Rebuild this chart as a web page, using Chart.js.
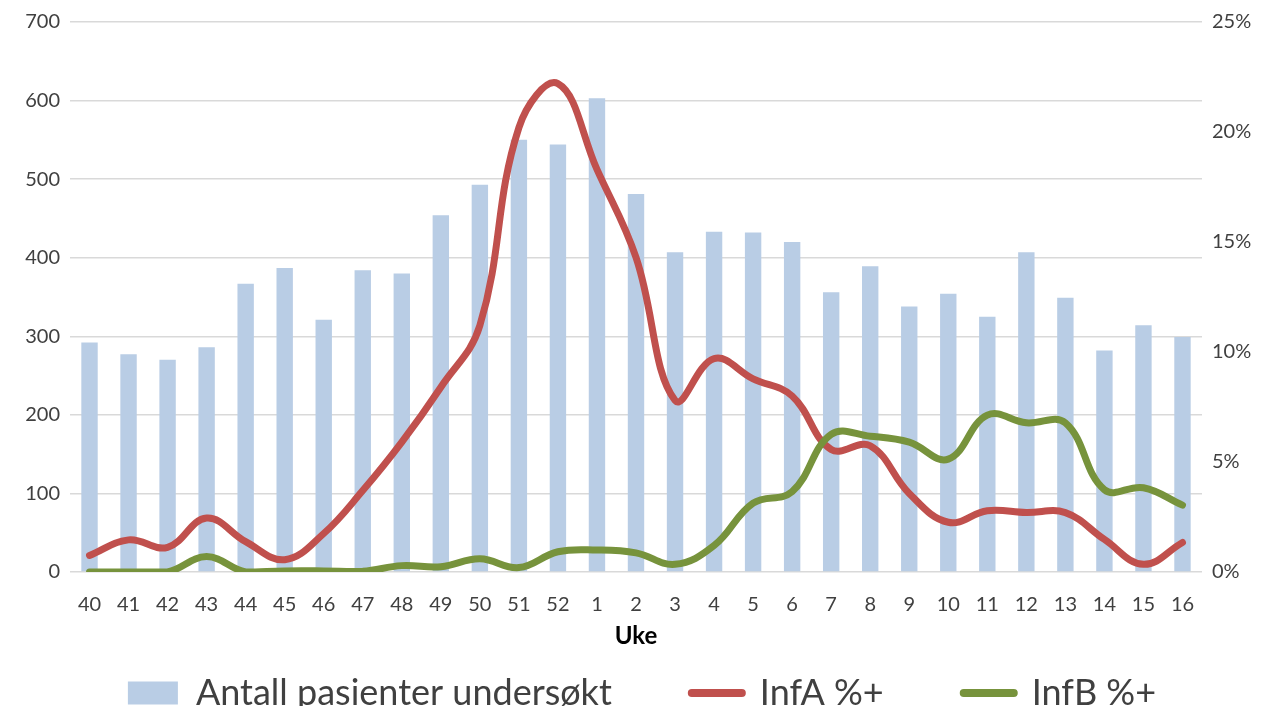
<!DOCTYPE html>
<html lang="no">
<head>
    <meta charset="UTF-8">
    <title>Influensa per uke</title>
    <script src="https://cdn.jsdelivr.net/npm/chart.js"></script>
    <style>
        html, body { margin: 0; padding: 0; background: #fff; }
        #wrap { width: 1284px; height: 706px; }
    </style>
</head>
<body>
    <div id="wrap"><canvas id="fluChart"></canvas></div>

    <script>
        // Uke-nummer langs x-aksen
        const weeks = ['40', '41', '42', '43', '44', '45', '46', '47', '48', '49', '50', '51', '52',
                       '1', '2', '3', '4', '5', '6', '7', '8', '9', '10', '11', '12', '13', '14', '15', '16'];

        // Antall pasienter undersøkt (venstre akse)
        const patients = [292, 277, 270, 286, 367, 387, 321, 384, 380, 454, 493, 550, 544,
                          603, 481, 407, 433, 432, 420, 356, 389, 338, 354, 325, 407, 349, 282, 314, 299];

        // Andel positive i prosent (høyre akse)
        const infA = [0.75, 1.46, 1.12, 2.45, 1.38, 0.56, 1.75, 3.7, 5.9, 8.4, 11.2, 20.2, 22.2,
                      18.3, 14.3, 7.8, 9.7, 8.78, 8.0, 5.57, 5.74, 3.57, 2.26, 2.78, 2.7, 2.7, 1.48, 0.35, 1.34];
        const infB = [0, 0, 0, 0.7, 0, 0.05, 0.05, 0.03, 0.29, 0.24, 0.6, 0.2, 0.92,
                      1.0, 0.87, 0.35, 1.2, 3.13, 3.65, 6.26, 6.17, 5.9, 5.13, 7.13, 6.78, 6.78, 3.74, 3.83, 3.04];

        const leftTicks = { min: 0, max: 700, step: 100 };
        const rightTicks = { min: 0, max: 25, step: 5 };

        const tickFont = { family: 'Lato', size: 20 };
        const tickColor = '#404040';

        new Chart(document.getElementById('fluChart'), {
            type: 'bar',
            data: {
                labels: weeks,
                datasets: [
                    {
                        label: 'Antall pasienter undersøkt',
                        data: patients,
                        backgroundColor: '#B9CDE5',
                        yAxisID: 'y',
                        categoryPercentage: 1.0,
                        barPercentage: 0.42,
                        order: 2
                    },
                    {
                        type: 'line',
                        label: 'InfA %+',
                        data: infA,
                        borderColor: '#C0504D',
                        backgroundColor: '#C0504D',
                        borderWidth: 7,
                        borderCapStyle: 'round',
                        tension: 0.4,
                        pointRadius: 0,
                        yAxisID: 'y1',
                        order: 1
                    },
                    {
                        type: 'line',
                        label: 'InfB %+',
                        data: infB,
                        borderColor: '#77933C',
                        backgroundColor: '#77933C',
                        borderWidth: 7,
                        borderCapStyle: 'round',
                        tension: 0.4,
                        pointRadius: 0,
                        yAxisID: 'y1',
                        order: 0
                    }
                ]
            },
            options: {
                responsive: true,
                maintainAspectRatio: false,
                animation: false,
                // negative bottom padding lets the wide legend spacing sit low like the original
                layout: { padding: { top: 22, left: 0, right: 0, bottom: -15 } },
                plugins: {
                    tooltip: { enabled: false },
                    legend: {
                        position: 'bottom',
                        labels: {
                            usePointStyle: true,
                            pointStyleWidth: 50,
                            boxHeight: 23,
                            padding: 80,
                            color: '#404040',
                            font: { family: 'Lato', size: 36 },
                            sort: (a, b) => a.datasetIndex - b.datasetIndex,
                            generateLabels(chart) {
                                const items = Chart.defaults.plugins.legend.labels.generateLabels(chart);
                                items.forEach(item => {
                                    const ds = chart.data.datasets[item.datasetIndex];
                                    if (ds.type === 'line') {
                                        item.pointStyle = 'line';
                                        item.lineWidth = 8;
                                        item.lineCap = 'round';
                                        item.strokeStyle = ds.borderColor;
                                    } else {
                                        item.pointStyle = 'rect';
                                        item.lineWidth = 0;
                                        item.fillStyle = ds.backgroundColor;
                                    }
                                });
                                return items;
                            }
                        }
                    }
                },
                scales: {
                    x: {
                        grid: { display: false, drawTicks: false },
                        border: { display: false },
                        // mirror + negative padding: labels sit below the axis without being clipped
                        ticks: { color: tickColor, font: tickFont, mirror: true, padding: -45, maxRotation: 0, autoSkip: false },
                        title: {
                            display: true,
                            text: 'Uke',
                            color: '#000',
                            font: { family: 'Lato', size: 24, weight: 'bold' },
                            padding: { top: 0, bottom: -56 }
                        },
                        afterFit(scale) { scale.height = 23; }
                    },
                    y: {
                        position: 'left',
                        min: leftTicks.min,
                        max: leftTicks.max,
                        ticks: { stepSize: leftTicks.step, color: tickColor, font: tickFont, padding: 10 },
                        grid: { color: '#D9D9D9', lineWidth: 1.5, drawTicks: false },
                        border: { display: false },
                        afterFit(scale) { scale.width = 70; }
                    },
                    y1: {
                        position: 'right',
                        min: rightTicks.min,
                        max: rightTicks.max,
                        ticks: {
                            stepSize: rightTicks.step,
                            color: tickColor,
                            font: tickFont,
                            padding: 10,
                            callback: v => v + '%'
                        },
                        grid: { display: false, drawTicks: false },
                        border: { display: false },
                        afterFit(scale) { scale.width = 82; }
                    }
                }
            }
        });
    </script>
</body>
</html>
